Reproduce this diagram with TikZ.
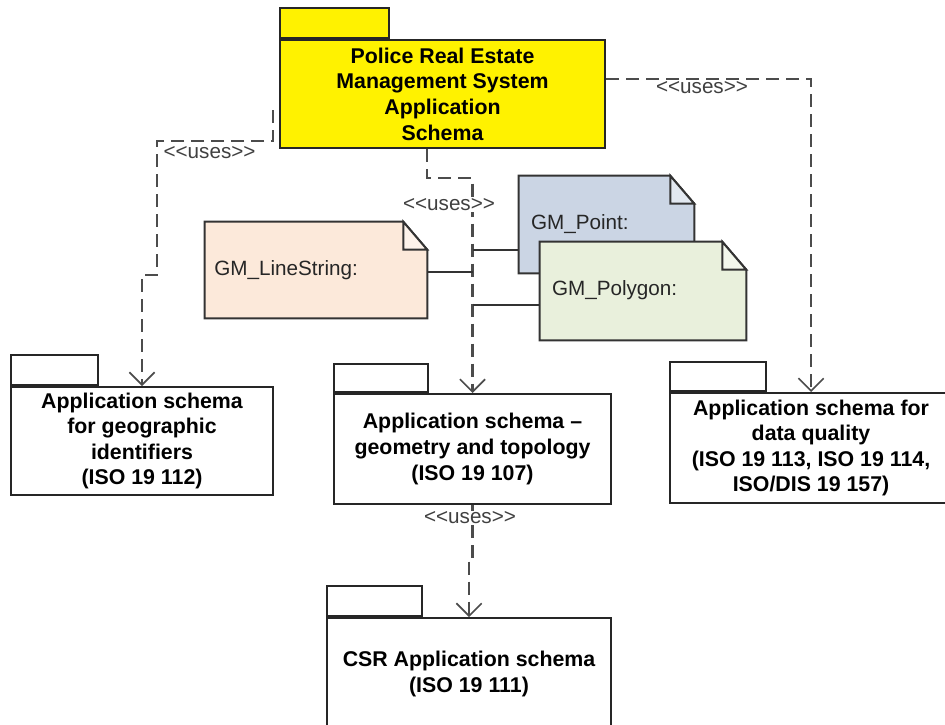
\documentclass[tikz,border=0pt]{standalone}
\usepackage{fontspec}
\setmainfont{Liberation Sans}
\usetikzlibrary{arrows.meta,backgrounds}
\definecolor{lsfill}{HTML}{FCE9DA}
\definecolor{ptfill}{HTML}{CBD5E4}
\definecolor{pgfill}{HTML}{E9F0DC}
\newcommand{\usestext}{<\kern0pt<uses>\kern0pt>}
\newcommand{\notebg}[2]{%
  \draw[notedraw, fill=#2] (#1.north west) -- ([xshift=-18pt]#1.north east)
    -- ([yshift=-21pt]#1.north east) -- (#1.south east) -- (#1.south west) -- cycle;
  \draw[notedraw, fill=#2!55!white] ([xshift=-18pt]#1.north east)
    -- ([xshift=-18pt,yshift=-21pt]#1.north east) -- ([yshift=-21pt]#1.north east) -- cycle;}
\begin{document}
\begin{tikzpicture}[x=0.75pt,y=-0.75pt,
  pkg/.style={draw=black!85, line width=1.5pt, fill=white, inner sep=0pt, align=center,
    font=\bfseries\fontsize{16}{19.2}\selectfont},
  pkgtab/.style={draw=black!85, line width=1.5pt, fill=white, inner sep=0pt, anchor=south west},
  notebox/.style={inner ysep=0pt, align=left, font=\fontsize{15.5}{18}\selectfont, text=black!85},
  notedraw/.style={draw=black!80, line width=1.5pt, line join=miter},
  dep/.style={draw=black!70, line width=1.6pt, dash pattern=on 10pt off 5pt,
    -{Straight Barb[length=9.5pt,width=19pt,line width=1.2pt]}},
  usesl/.style={font=\fontsize{15.5}{18}\selectfont, text=black!75, inner sep=1pt},
  link/.style={draw=black!80, line width=1.5pt}]
\useasboundingbox (0,0) rectangle (945,724);
\clip (0,0) rectangle (945,724);

% packages
\node[pkg, fill=yellow, minimum width=243.75pt, minimum height=81pt] (top) at (442.5,94)
  {Police Real Estate\\Management System\\Application\\Schema};
\node[pkgtab, fill=yellow, minimum width=81.75pt, minimum height=22.5pt] (toptab) at (top.north west) {};

\node[pkg, minimum width=196.5pt, minimum height=81pt] (geo) at (142,441)
  {Application schema\\for geographic\\identifiers\\(ISO 19 112)};
\node[pkgtab, minimum width=65.25pt, minimum height=22.5pt] (geotab) at (geo.north west) {};

\node[pkg, minimum width=207.75pt, minimum height=82.5pt] (geom) at (472.5,449)
  {Application schema –\\geometry and topology\\(ISO 19 107)};
\node[pkgtab, minimum width=70.5pt, minimum height=21pt] (geomtab) at (geom.north west) {};

\node[pkg, minimum width=211.5pt, minimum height=82.5pt] (dq) at (811,448)
  {Application schema for\\data quality\\(ISO 19 113, ISO 19 114,\\ISO/DIS 19 157)};
\node[pkgtab, minimum width=72pt, minimum height=21.75pt] (dqtab) at (dq.north west) {};

\node[pkg, minimum width=213pt, minimum height=84pt] (csr) at (469,674)
  {CSR Application schema\\(ISO 19 111)};
\node[pkgtab, minimum width=71.25pt, minimum height=22.5pt] (csrtab) at (csr.north west) {};

% notes
\node[notebox, inner xsep=7pt, minimum width=166.5pt, minimum height=72pt, text width=152.5pt] (ls) at (316,270) {GM\_LineString:};
\node[notebox, inner xsep=9pt, minimum width=131.25pt, minimum height=72.75pt, text width=113.25pt] (pt) at (606.5,224.5) {GM\_Point:};
\node[notebox, inner xsep=9pt, minimum width=154.5pt, minimum height=73.5pt, text width=136.5pt] (pg) at (643,291) {\raisebox{4.5pt}{GM\_Polygon:}};
\begin{scope}[on background layer]
  \notebg{ls}{lsfill}
  \notebg{pt}{ptfill}
  \notebg{pg}{pgfill}
\end{scope}

% dependencies
\coordinate (a0) at (273,110);
\draw[dep] (a0) |- (157,141) |- (142,275) -- (geo.north);
\draw[dep] ([xshift=-11.625pt]top.south) |- (472.5,178) -- (geom.north);
\draw[dep] ([yshift=11.25pt]top.east) -| (dq.north);
\draw[dep] (geom.south) -- (472.5,560) -- (469,560) -- (csr.north);

% note links
\coordinate (j1) at (473,250);
\coordinate (j2) at (473,272);
\coordinate (j3) at (473,305);
\draw[link] (j1) -- (j1 -| pt.west);
\draw[link] (ls.east |- j2) -- (j2);
\draw[link] (j3) -- (j3 -| pg.west);

% labels
\node[usesl, anchor=west] (u1) at (162,153) {\usestext};
\node[usesl, fill=white] (u2) at (449,205) {\usestext};
\node[usesl, fill=white] (u3) at (702,88) {\usestext};
\node[usesl, fill=white] (u4) at (470,518) {\usestext};
\end{tikzpicture}
\end{document}
